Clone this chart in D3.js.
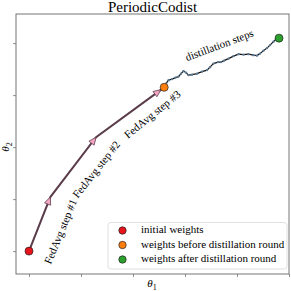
<!DOCTYPE html>
<html>
<head>
<meta charset="utf-8">
<script src="https://cdn.jsdelivr.net/npm/d3@7"></script>
<style>
  body { margin: 0; background: #fff; }
  text { font-family: "Liberation Serif", "DejaVu Serif", serif; }
</style>
</head>
<body>
<div id="chart"></div>
<script>
// data (arbitrary parameter-space units, ticks are unlabeled)
const fedavgX = [0, 0.41, 1.29, 2.6];
const fedavgY = [0, 1.04, 2.19, 3.15];
const fedavgLabels = ["FedAvg step #1", "FedAvg step #2", "FedAvg step #3"];

const distillX = [2.6, 2.635, 2.683, 2.75, 2.817, 2.875, 2.923, 2.971, 3.019, 3.067,
  3.135, 3.231, 3.327, 3.423, 3.481, 3.548, 3.635, 3.692, 3.75, 3.837, 3.933, 4.029,
  4.125, 4.221, 4.317, 4.385, 4.442, 4.51, 4.577, 4.635, 4.702, 4.76, 4.808];
const distillY = [3.15, 3.221, 3.288, 3.308, 3.337, 3.356, 3.413, 3.462, 3.433, 3.385,
  3.394, 3.413, 3.452, 3.481, 3.538, 3.606, 3.635, 3.635, 3.663, 3.702, 3.75, 3.788,
  3.779, 3.788, 3.769, 3.76, 3.798, 3.856, 3.904, 3.962, 4.029, 4.087, 4.096];

const xTicks = [0, 1, 2, 3, 4, 5];
const yTicks = [0, 1, 2, 3, 4];

const legendLabels = ["initial weights", "weights before distillation round", "weights after distillation round"];
const legendColors = ["#e8141c", "#ff7f0e", "#2ca02c"];

const width = 291, height = 291;
const margin = { top: 14, right: 2, bottom: 17, left: 16 };

const svg = d3.select("#chart").append("svg")
  .attr("width", width).attr("height", height);

const xScale = d3.scaleLinear().domain([-0.25, 5.0])
  .range([margin.left, width - margin.right]);
const yScale = d3.scaleLinear().domain([-0.44, 4.56])
  .range([height - margin.bottom, margin.top]);

// axes with blank tick labels
svg.append("g")
  .attr("transform", `translate(0,${height - margin.bottom})`)
  .call(d3.axisBottom(xScale).tickValues(xTicks).tickFormat("").tickSize(3).tickSizeOuter(0));
svg.append("g")
  .attr("transform", `translate(${margin.left},0)`)
  .call(d3.axisLeft(yScale).tickValues(yTicks).tickFormat("").tickSize(3).tickSizeOuter(0));
svg.selectAll(".domain").remove();
svg.selectAll(".tick line").attr("stroke", "#777").attr("stroke-width", 0.8);

// frame
svg.append("rect")
  .attr("x", margin.left).attr("y", margin.top)
  .attr("width", width - margin.left - margin.right)
  .attr("height", height - margin.top - margin.bottom)
  .attr("fill", "none").attr("stroke", "#666").attr("stroke-width", 0.9);

// title and axis labels
svg.append("text").attr("x", (margin.left + width - margin.right) / 2).attr("y", 12)
  .attr("text-anchor", "middle").style("font-size", "15px").text("PeriodicCodist");

const xl = svg.append("text").attr("x", 152).attr("y", 287)
  .attr("text-anchor", "middle").style("font-size", "11px");
xl.append("tspan").style("font-style", "italic").text("θ");
xl.append("tspan").attr("dy", 2.5).style("font-size", "8px").text("1");

const yl = svg.append("text").attr("transform", "translate(9,147) rotate(-90)")
  .attr("text-anchor", "middle").style("font-size", "11px");
yl.append("tspan").style("font-style", "italic").text("θ");
yl.append("tspan").attr("dy", 2.5).style("font-size", "8px").text("2");

// distillation path
const distPts = distillX.map((x, i) => [xScale(x), yScale(distillY[i])]);
svg.append("path")
  .attr("d", d3.line()(distPts))
  .attr("fill", "none").attr("stroke", "#111").attr("stroke-width", 1.2);
svg.selectAll(".dist-dot").data(distPts.slice(1, -1)).enter().append("circle")
  .attr("cx", d => d[0]).attr("cy", d => d[1]).attr("r", 1.2)
  .attr("fill", "#5b7a94");

svg.append("text")
  .attr("transform", `translate(${xScale(3.67)},${yScale(3.94)}) rotate(-20.5)`)
  .attr("text-anchor", "middle").attr("dominant-baseline", "middle")
  .style("font-size", "11px").text("distillation steps");

// FedAvg steps
const fedPts = fedavgX.map((x, i) => [xScale(x), yScale(fedavgY[i])]);
svg.append("path")
  .attr("d", d3.line()(fedPts))
  .attr("fill", "none").attr("stroke", "#5a3c4a").attr("stroke-width", 2);

const labelOffsets = [[22, 8], [24, 3], [23, 3]];
fedPts.slice(1).forEach((p, i) => {
  const p0 = fedPts[i];
  const ang = Math.atan2(p[1] - p0[1], p[0] - p0[0]);
  const deg = ang * 180 / Math.PI;
  // arrowhead pointing along the segment
  const tip = i === 2 ? [p[0] - 4 * Math.cos(ang), p[1] - 4 * Math.sin(ang)] : p;
  svg.append("path")
    .attr("d", "M0,0 L-7.5,-3.3 L-7.5,3.3 Z")
    .attr("transform", `translate(${tip[0]},${tip[1]}) rotate(${deg})`)
    .attr("fill", "#f5a5c3").attr("stroke", "#5a3c4a").attr("stroke-width", 0.7);
  const mx = (p0[0] + p[0]) / 2 + labelOffsets[i][0];
  const my = (p0[1] + p[1]) / 2 + labelOffsets[i][1];
  svg.append("text")
    .attr("transform", `translate(${mx},${my}) rotate(${deg + (i === 2 ? -3 : 1)})`)
    .attr("text-anchor", "middle").attr("dominant-baseline", "middle")
    .style("font-size", "11px").text(fedavgLabels[i]);
});

// key points
const keyPts = [fedPts[0], fedPts[fedPts.length - 1], distPts[distPts.length - 1]];
svg.selectAll(".key").data(keyPts).enter().append("circle")
  .attr("cx", d => d[0]).attr("cy", d => d[1]).attr("r", 4)
  .attr("fill", (d, i) => legendColors[i]).attr("stroke", "#222").attr("stroke-width", 0.7);

// legend
const legend = svg.append("g");
legend.append("rect")
  .attr("x", 108).attr("y", 222.5).attr("width", 179).attr("height", 46.5)
  .attr("rx", 3).attr("fill", "#fff").attr("fill-opacity", 0.85)
  .attr("stroke", "#ddd").attr("stroke-width", 0.9);
legendLabels.forEach((lab, i) => {
  const y = 230.5 + i * 14.5;
  legend.append("circle").attr("cx", 122.5).attr("cy", y).attr("r", 3.7)
    .attr("fill", legendColors[i]).attr("stroke", "#222").attr("stroke-width", 0.7);
  legend.append("text").attr("x", 141).attr("y", y)
    .attr("dominant-baseline", "middle").style("font-size", "11px").text(lab);
});
</script>
</body>
</html>
